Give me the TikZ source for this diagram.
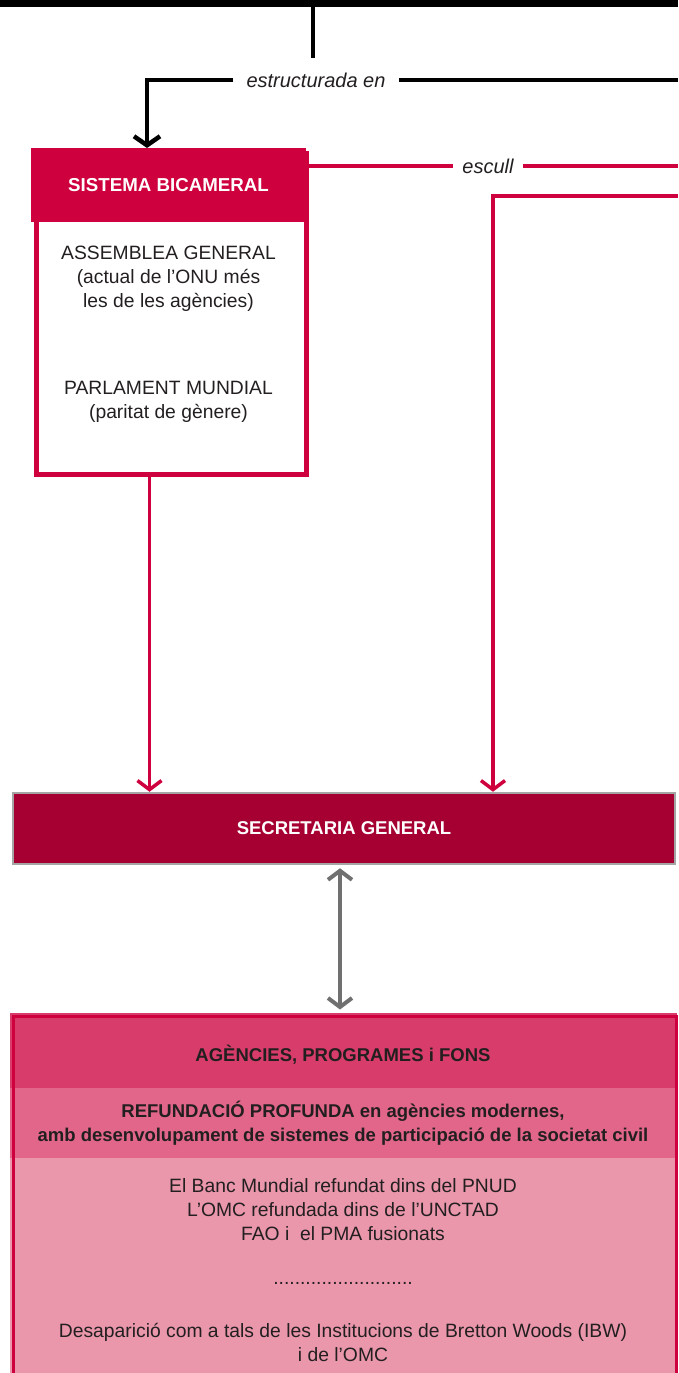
\documentclass[tikz,border=0pt]{standalone}
\usepackage{fontspec}
\setmainfont{Liberation Sans}
\usepackage{xcolor}
\usepackage{tikz}
\usetikzlibrary{arrows.meta, positioning}

\definecolor{bicred}{RGB}{206,0,62}
\definecolor{secred}{RGB}{166,0,50}
\definecolor{agenA}{RGB}{215,60,106}
\definecolor{agenB}{RGB}{225,102,138}
\definecolor{agenC}{RGB}{234,151,172}
\definecolor{inkdark}{RGB}{35,31,32}
\definecolor{linkgray}{RGB}{112,112,112}
\definecolor{edgegray}{RGB}{165,165,165}

\tikzstyle{redhead} = [rectangle, fill=bicred, text=white, font=\fontsize{18.7}{24}\selectfont\bfseries, minimum width=275pt, minimum height=74pt, inner sep=0pt]
\tikzstyle{redframe} = [rectangle, draw=bicred, line width=5pt, inner sep=0pt]
\tikzstyle{bodytext} = [text=inkdark, align=center, font=\fontsize{19.3}{24}\selectfont]
\tikzstyle{labeltext} = [fill=white, text=inkdark, font=\fontsize{20}{22}\selectfont\itshape, inner ysep=2pt]
\tikzstyle{secbox} = [rectangle, fill=secred, draw=edgegray, line width=2.5pt, text=white, font=\fontsize{18.5}{24}\selectfont\bfseries, minimum width=662pt, minimum height=71pt]
\tikzstyle{agenband} = [rectangle, minimum width=666pt, inner sep=0pt, outer sep=0pt, line width=1pt, text=inkdark, align=center, font=\fontsize{18.5}{24}\selectfont\bfseries]
\tikzstyle{blackarrow} = [line width=4.5pt, -{Straight Barb[length=9pt, width=26pt]}]
\tikzstyle{redarrow} = [draw=bicred, line width=3.5pt, line join=miter, -{Straight Barb[length=9pt, width=24pt]}]
\tikzstyle{grayarrow} = [draw=linkgray, line width=4pt, {Straight Barb[length=9pt, width=24pt]}-{Straight Barb[length=9pt, width=24pt]}]

\begin{document}
\begin{tikzpicture}[x=1pt, y=-1pt]
\useasboundingbox (0,0) rectangle (678,1373);

% Nodes for the top connectors
\coordinate (topleft) at (0,3);
\coordinate (topright) at (678,3);
\coordinate (topdrop) at (313,3);
\node (estructurada) [labeltext, inner xsep=13pt] at (316,80) {estructurada en};
\coordinate (estructuradaend) at (678,80);

% Nodes for sistema bicameral
\node (bicameral) [redframe, minimum width=270pt, minimum height=321pt, anchor=north west] at (33.5,150.5) {};
\node (bicheader) [redhead, anchor=north] at (168.5,148) {SISTEMA BICAMERAL};
\node (assemblea) [bodytext] at (168.5,279) {ASSEMBLEA GENERAL\\(actual de l’ONU més\\les de les agències)};
\node (parlament) [bodytext] at (168.5,402) {PARLAMENT MUNDIAL\\(paritat de gènere)};

% Nodes for escull
\node (escull) [labeltext, inner xsep=9pt] at (488,166) {escull};
\coordinate (escullend) at (678,166);
\coordinate (chosenstart) at (678,196);
\coordinate (chosencorner) at (493,196);

% Node for secretaria
\node (secretaria) [secbox] at (344,828.5) {SECRETARIA GENERAL};

% Nodes for agencies
\node (agenhead) [agenband, fill=agenA, draw=agenA, minimum height=75pt, text height=21pt, text depth=0pt, anchor=north] at (343,1013) {AGÈNCIES, PROGRAMES i FONS};
\node (agenrefund) [agenband, fill=agenB, draw=agenB, minimum height=70pt, anchor=north] at (agenhead.south) {REFUNDACIÓ PROFUNDA en agències modernes,\\amb desenvolupament de sistemes de participació de la societat civil};
\node (agenlist) [agenband, fill=agenC, draw=agenC, minimum height=217pt, anchor=north] at (agenrefund.south) {};
\node (agenframe) [draw=bicred, line width=3pt, minimum width=663pt, minimum height=362pt, anchor=north west] at (11.5,1014.5) {};
\node (banc) [bodytext] at (343,1210) {El Banc Mundial refundat dins del PNUD\\L’OMC refundada dins de l’UNCTAD\\FAO i\ \ el PMA fusionats};
\node (dots) [bodytext] at (343,1283) {..........................};
\node (desaparicio) [bodytext] at (343,1342) {Desaparició com a tals de les Institucions de Bretton Woods (IBW)\\i de l’OMC};

% Black connectors
\draw [line width=7pt] (topleft) -- (topright);
\draw [line width=4.5pt, shorten >=12pt] (topdrop) -- (topdrop |- estructurada.north);
\draw [line width=4.5pt] (estructuradaend) -- (estructurada.east);
\draw [blackarrow] (estructurada.west) -| ([xshift=-21.5pt]bicheader.north);

% Red connectors
\draw [draw=bicred, line width=4pt] (bicameral.east |- escull) -- (escull.west);
\draw [draw=bicred, line width=4pt] (escull.east) -- (escullend);
\draw [redarrow] (chosenstart) -- (chosencorner) -- (chosencorner |- secretaria.north);
\draw [redarrow] ([xshift=-21.5pt]bicameral.south) -- ([xshift=-21.5pt]bicameral.south |- secretaria.north);

% Gray connector
\draw [grayarrow, shorten <=3pt, shorten >=5pt] ([xshift=-4pt]secretaria.south) -- ([xshift=-4pt]secretaria.south |- agenframe.north);

\end{tikzpicture}
\end{document}
